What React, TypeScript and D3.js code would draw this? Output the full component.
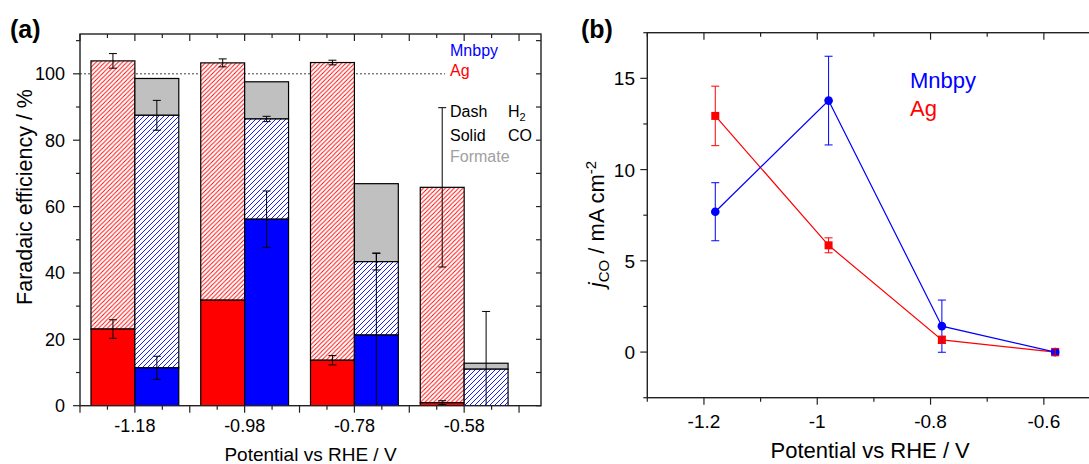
import React from "react";
import * as d3 from "d3";

// ---------- data: panel (a) Faradaic efficiency ----------
const potentials = [-1.18, -0.98, -0.78, -0.58];
const potentialLabels = ["-1.18", "-0.98", "-0.78", "-0.58"];
const agCO = [23.1, 31.8, 13.7, 0.9];
const agCOErr = [2.8, 0, 1.4, 0.6];
const agH2 = [80.8, 71.5, 89.7, 64.9];
const agH2Err = [2.2, 1.2, 0.7, 24.0];
const mnCO = [11.4, 56.2, 21.3, 0];
const mnCOErr = [3.5, 8.5, 24.7, 0];
const mnH2 = [76.1, 30.2, 22.1, 11.0];
const mnH2Err = [4.5, 0.8, 2.5, 17.4];
const mnFormate = [11.1, 11.2, 23.5, 1.8];
const feYTicks = [0, 20, 40, 60, 80, 100];

// ---------- data: panel (b) partial current density ----------
const jPotentials = [-1.18, -0.98, -0.78, -0.58];
const agJ = [12.94, 5.85, 0.67, 0.0];
const agJErr = [1.63, 0.41, 0.2, 0.2];
const mnJ = [7.69, 13.78, 1.42, 0.0];
const mnJErr = [1.59, 2.43, 1.43, 0.1];
const jXTicks = [-1.2, -1.0, -0.8, -0.6];
const jXTickLabels = ["-1.2", "-1", "-0.8", "-0.6"];
const jYTicks = [0, 5, 10, 15];

const RED = "#ff0000";
const BLUE = "#0000ff";
const GRAY = "#c0c0c0";
const AX = "#222";
const FONT = "'Liberation Sans', Arial, Helvetica, sans-serif";

function range(a: number, b: number, step: number) {
  const out: number[] = [];
  for (let v = a; v <= b + 1e-9; v += step) out.push(+v.toFixed(4));
  return out;
}

function ErrBar({ x, y1, y2, color = "#000", cap = 4 }: any) {
  return (
    <g stroke={color} strokeWidth={1}>
      <line x1={x} x2={x} y1={y1} y2={y2} />
      <line x1={x - cap} x2={x + cap} y1={y1} y2={y1} />
      <line x1={x - cap} x2={x + cap} y1={y2} y2={y2} />
    </g>
  );
}

export default function App() {
  // panel (a)
  const xL = d3.scaleLinear().domain([-1.28, -0.44]).range([80, 541]);
  const yL = d3.scaleLinear().domain([0, 112]).range([405.7, 34]);
  const bw = 0.08;
  const lx0 = xL.range()[0], lx1 = xL.range()[1];
  const ly0 = yL.range()[0], ly1 = yL.range()[1];

  // panel (b)
  const xR = d3.scaleLinear().domain([-1.3, -0.5]).range([647.3, 1100.5]);
  const yR = d3.scaleLinear().domain([-2.5, 17.5]).range([397.7, 32.7]);
  const rx0 = xR.range()[0], rx1 = xR.range()[1];
  const ry0 = yR.range()[0], ry1 = yR.range()[1];

  const xMajorL = range(-1.28, -0.44, 0.1);
  const xMinorL = range(-1.23, -0.44, 0.1);
  const yMinorL = range(10, 110, 20);
  const yAllL = range(0, 110, 10);

  const xMajorR = jXTicks;
  const xMinorR = [-1.3, -1.1, -0.9, -0.7, -0.5];
  const yMinorR = range(-2.5, 17.5, 5);

  const lineGen = d3
    .line<number>()
    .x((_, i) => xR(jPotentials[i]))
    .y((d) => yR(d));

  return (
    <svg
      width={1089}
      height={464}
      style={{ position: "absolute", left: 0, top: 0, background: "#fff" }}
      fontFamily={FONT}
    >
      <defs>
        <pattern id="hatchRed" patternUnits="userSpaceOnUse" width={4.4} height={4.4}>
          <rect width={4.4} height={4.4} fill="#fff" />
          <path d="M-1,1 L1,-1 M0,4.4 L4.4,0 M3.4,5.4 L5.4,3.4" stroke={RED} strokeWidth={0.9} />
        </pattern>
        <pattern id="hatchBlue" patternUnits="userSpaceOnUse" width={5} height={5}>
          <rect width={5} height={5} fill="#fff" />
          <path d="M-1,1 L1,-1 M0,5 L5,0 M4,6 L6,4" stroke={BLUE} strokeWidth={0.9} />
        </pattern>
        <clipPath id="clipL">
          <rect x={lx0} y={ly1} width={lx1 - lx0} height={ly0 - ly1} />
        </clipPath>
        <clipPath id="clipR">
          <rect x={rx0} y={ry1} width={rx1 - rx0} height={ry0 - ry1} />
        </clipPath>
      </defs>

      {/* ================= Panel (a) ================= */}
      <text x={10} y={38} fontSize={25} fontWeight="bold">(a)</text>

      {/* 100 % reference line */}
      <line x1={lx0} x2={445} y1={yL(100)} y2={yL(100)} stroke="#444" strokeWidth={1} strokeDasharray="2,2" />

      <g clipPath="url(#clipL)">
        {potentials.map((p, i) => {
          const axL = xL(p - bw), axR = xL(p), mxR = xL(p + bw);
          const agTop = agCO[i] + agH2[i];
          const mnH2Top = mnCO[i] + mnH2[i];
          const mnTop = mnH2Top + mnFormate[i];
          return (
            <g key={i} stroke="#000" strokeWidth={1.2}>
              {/* Ag */}
              <rect x={axL} width={axR - axL} y={yL(agTop)} height={yL(agCO[i]) - yL(agTop)} fill="url(#hatchRed)" />
              {agCO[i] > 0 && (
                <rect x={axL} width={axR - axL} y={yL(agCO[i])} height={yL(0) - yL(agCO[i])} fill={RED} />
              )}
              {/* Mnbpy */}
              <rect x={axR} width={mxR - axR} y={yL(mnTop)} height={yL(mnH2Top) - yL(mnTop)} fill={GRAY} />
              <rect x={axR} width={mxR - axR} y={yL(mnH2Top)} height={yL(mnCO[i]) - yL(mnH2Top)} fill="url(#hatchBlue)" />
              {mnCO[i] > 0 && (
                <rect x={axR} width={mxR - axR} y={yL(mnCO[i])} height={yL(0) - yL(mnCO[i])} fill={BLUE} />
              )}
            </g>
          );
        })}
        {potentials.map((p, i) => {
          const ca = xL(p - bw / 2), cm = xL(p + bw / 2);
          const agTop = agCO[i] + agH2[i];
          const mnH2Top = mnCO[i] + mnH2[i];
          return (
            <g key={"e" + i}>
              {agH2Err[i] > 0 && <ErrBar x={ca} y1={yL(agTop + agH2Err[i])} y2={yL(agTop - agH2Err[i])} />}
              {agCOErr[i] > 0 && <ErrBar x={ca} y1={yL(agCO[i] + agCOErr[i])} y2={yL(agCO[i] - agCOErr[i])} />}
              {mnH2Err[i] > 0 && <ErrBar x={cm} y1={yL(mnH2Top + mnH2Err[i])} y2={yL(Math.max(mnH2Top - mnH2Err[i], -5))} />}
              {mnCOErr[i] > 0 && <ErrBar x={cm} y1={yL(mnCO[i] + mnCOErr[i])} y2={yL(Math.max(mnCO[i] - mnCOErr[i], -5))} />}
            </g>
          );
        })}
      </g>

      {/* frame (a) */}
      <rect x={lx0} y={ly1} width={lx1 - lx0} height={ly0 - ly1} fill="none" stroke={AX} strokeWidth={1.4} />
      <g stroke={AX} strokeWidth={1.2}>
        {xMajorL.map((v, i) => (
          <g key={"xm" + i}>
            <line x1={xL(v)} x2={xL(v)} y1={ly0} y2={ly0 + 7} />
            <line x1={xL(v)} x2={xL(v)} y1={ly1} y2={ly1 + 7} />
          </g>
        ))}
        {xMinorL.map((v, i) => (
          <g key={"xn" + i}>
            <line x1={xL(v)} x2={xL(v)} y1={ly0} y2={ly0 + 4} />
            <line x1={xL(v)} x2={xL(v)} y1={ly1} y2={ly1 + 4} />
          </g>
        ))}
        {feYTicks.map((v, i) => (
          <line key={"ym" + i} x1={lx0 - 7} x2={lx0} y1={yL(v)} y2={yL(v)} />
        ))}
        {yMinorL.map((v, i) => (
          <line key={"yn" + i} x1={lx0 - 4} x2={lx0} y1={yL(v)} y2={yL(v)} />
        ))}
        {yAllL.map((v, i) => (
          <line key={"yr" + i} x1={lx1 - 5} x2={lx1} y1={yL(v)} y2={yL(v)} />
        ))}
      </g>
      <g fontSize={18} fill="#000">
        {potentials.map((p, i) => (
          <text key={"xl" + i} x={xL(p)} y={432} textAnchor="middle">{potentialLabels[i]}</text>
        ))}
        {feYTicks.map((v, i) => (
          <text key={"yl" + i} x={65} y={yL(v) + 6.5} textAnchor="end">{v}</text>
        ))}
      </g>
      <text x={(lx0 + lx1) / 2} y={461} fontSize={19} textAnchor="middle">Potential vs RHE / V</text>
      <text transform="translate(32,197) rotate(-90)" fontSize={21.5} textAnchor="middle">Faradaic efficiency / %</text>

      {/* legend (a) */}
      <g fontSize={16}>
        <text x={450} y={56} fill={BLUE}>Mnbpy</text>
        <text x={450} y={76} fill={RED}>Ag</text>
        <text x={450} y={117}>Dash</text>
        <text x={508} y={117}>H<tspan fontSize={11} dy={4}>2</tspan></text>
        <text x={450} y={141}>Solid</text>
        <text x={508} y={141}>CO</text>
        <text x={450} y={162} fill="#a0a0a0">Formate</text>
      </g>

      {/* ================= Panel (b) ================= */}
      <text x={581} y={38} fontSize={25} fontWeight="bold">(b)</text>

      <g clipPath="url(#clipR)">
        <path d={lineGen(agJ) || ""} fill="none" stroke={RED} strokeWidth={1.2} />
        <path d={lineGen(mnJ) || ""} fill="none" stroke={BLUE} strokeWidth={1.2} />
        {jPotentials.map((p, i) => (
          <rect key={"sq" + i} x={xR(p) - 4} y={yR(agJ[i]) - 4} width={8} height={8} fill={RED} />
        ))}
        {jPotentials.map((p, i) => (
          <circle key={"ci" + i} cx={xR(p)} cy={yR(mnJ[i])} r={4.3} fill={BLUE} />
        ))}
        {jPotentials.map((p, i) => (
          <ErrBar key={"be" + i} x={xR(p)} y1={yR(mnJ[i] + mnJErr[i])} y2={yR(mnJ[i] - mnJErr[i])} color={BLUE} />
        ))}
        {jPotentials.map((p, i) => (
          <ErrBar key={"re" + i} x={xR(p)} y1={yR(agJ[i] + agJErr[i])} y2={yR(agJ[i] - agJErr[i])} color={RED} />
        ))}
      </g>

      {/* frame (b) */}
      <rect x={rx0} y={ry1} width={rx1 - rx0} height={ry0 - ry1} fill="none" stroke={AX} strokeWidth={1.4} />
      <g stroke={AX} strokeWidth={1.2}>
        {xMajorR.map((v, i) => (
          <g key={"rxm" + i}>
            <line x1={xR(v)} x2={xR(v)} y1={ry0} y2={ry0 + 7} />
            <line x1={xR(v)} x2={xR(v)} y1={ry1} y2={ry1 + 7} />
          </g>
        ))}
        {xMinorR.map((v, i) => (
          <g key={"rxn" + i}>
            <line x1={xR(v)} x2={xR(v)} y1={ry0} y2={ry0 + 4} />
            <line x1={xR(v)} x2={xR(v)} y1={ry1} y2={ry1 + 4} />
          </g>
        ))}
        {jYTicks.map((v, i) => (
          <line key={"rym" + i} x1={rx0 - 7} x2={rx0} y1={yR(v)} y2={yR(v)} />
        ))}
        {yMinorR.map((v, i) => (
          <line key={"ryn" + i} x1={rx0 - 4} x2={rx0} y1={yR(v)} y2={yR(v)} />
        ))}
      </g>
      <g fontSize={19} fill="#000">
        {xMajorR.map((v, i) => (
          <text key={"rxl" + i} x={xR(v)} y={428} textAnchor="middle">{jXTickLabels[i]}</text>
        ))}
        {jYTicks.map((v, i) => (
          <text key={"ryl" + i} x={635} y={yR(v) + 7} textAnchor="end">{v}</text>
        ))}
      </g>
      <text x={(rx0 + 1089) / 2 + 2} y={458} fontSize={22} textAnchor="middle">Potential vs RHE / V</text>
      <text transform="translate(604,224) rotate(-90)" fontSize={22} textAnchor="middle">
        <tspan fontStyle="italic">j</tspan>
        <tspan fontSize={15} dy={5}>CO</tspan>
        <tspan dy={-5}> / mA cm</tspan>
        <tspan fontSize={15} dy={-8}>-2</tspan>
      </text>

      {/* legend (b) */}
      <g fontSize={22}>
        <text x={910} y={88} fill={BLUE}>Mnbpy</text>
        <text x={910} y={116} fill={RED}>Ag</text>
      </g>
    </svg>
  );
}
